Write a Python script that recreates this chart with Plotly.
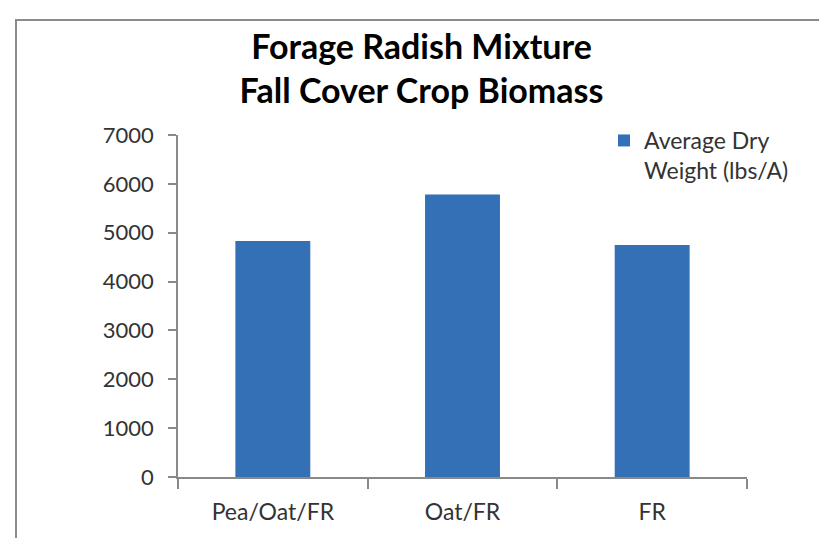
import plotly.graph_objects as go

categories = ["Pea/Oat/FR", "Oat/FR", "FR"]
dry_weight = [4830, 5780, 4750]
y_ticks = [0, 1000, 2000, 3000, 4000, 5000, 6000, 7000]
series_name = "Average Dry<br>Weight (lbs/A)"
title_text = "Forage Radish Mixture<br>Fall Cover Crop Biomass"

W, H = 827, 538
L, R, T, B = 170, 88, 127, 69
pw, ph = W - L - R, H - T - B

fig = go.Figure()
fig.add_trace(go.Bar(
    x=categories, y=dry_weight, name=series_name,
    marker=dict(color="#3470b6", line=dict(width=0)),
    showlegend=True,
))

axis_col = "#898989"
font_fam = "Lato, 'Open Sans', sans-serif"

fig.update_layout(
    width=W, height=H,
    margin=dict(l=L, r=R, t=T, b=B, autoexpand=False),
    paper_bgcolor="white", plot_bgcolor="white",
    bargap=0.605,
    showlegend=True,
    title=dict(text=title_text, x=0.5, xref="container", xanchor="center",
               y=1 - 51 / H, yref="container", yanchor="middle",
               font=dict(family=font_fam, size=34, color="#000000", weight="bold")),
    legend=dict(x=(596 - L) / pw, y=1 + (T - 111) / ph, xanchor="left", yanchor="top",
                valign="top",
                font=dict(family=font_fam, size=23, color="#333333"),
                bgcolor="rgba(0,0,0,0)"),
    xaxis=dict(showline=True, linecolor=axis_col, linewidth=1.5,
               ticks="outside", tickson="boundaries", ticklen=10, tickcolor=axis_col, tickwidth=1.5,
               tickfont=dict(family=font_fam, size=23, color="#333333"), ticklabelstandoff=14,
               showgrid=False, zeroline=False, fixedrange=True),
    yaxis=dict(range=[0, 7000], tickvals=y_ticks, showline=True, linecolor=axis_col, linewidth=1.5,
               ticks="outside", ticklen=8, tickcolor=axis_col, tickwidth=1.5,
               tickfont=dict(family=font_fam, size=22, color="#333333"), ticklabelstandoff=10,
               showgrid=False, zeroline=False, fixedrange=True),
    shapes=[dict(type="rect", xref="paper", yref="paper",
                 x0=(8 - L) / pw, x1=(840 - L) / pw,
                 y0=-(560 - (H - B)) / ph, y1=1 + (T - 12) / ph,
                 line=dict(color="#8c8c8c", width=2), fillcolor="rgba(0,0,0,0)", layer="below")],
)

fig.write_html("out.html")
